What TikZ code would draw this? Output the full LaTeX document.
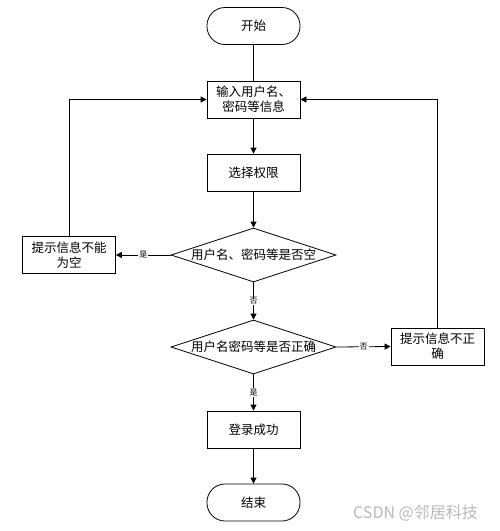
\documentclass[tikz,border=0pt]{standalone}
\usepackage{fontspec}
\setmainfont{Noto Sans CJK SC}
\usetikzlibrary{shapes.geometric,arrows.meta}
\begin{document}
\begin{tikzpicture}[x=1pt, y=-1pt, line width=0.8pt,
   >={Triangle[length=6pt,width=6pt]},
   term/.style={draw, rounded corners=18pt, minimum width=93pt, minimum height=37pt,
     font=\fontsize{12.5}{15}\selectfont},
   box/.style={draw, minimum width=93pt, minimum height=37pt, inner sep=1pt, align=center,
     font=\fontsize{12.5}{15}\selectfont},
   cond/.style={draw, diamond, aspect=3, inner sep=0pt, minimum width=165pt, minimum height=54pt,
     font=\fontsize{12.5}{15}\selectfont},
   lbl/.style={fill=white, inner sep=1pt, font=\fontsize{8}{8}\selectfont}]
   \useasboundingbox (0,0) rectangle (500,531);
   \node[term] (start) at (253.5,26) {开始};
   \node[box] (input) at (253.5,99.5) {输入用户名、\\密码等信息};
   \node[box] (role) at (253.5,172.5) {选择权限};
   \node[cond] (empty) at (253.5,255) {用户名、密码等是否空};
   \node[box] (msgempty) at (69,255) {提示信息不能\\为空};
   \node[cond] (check) at (253.5,347) {用户名密码等是否正确};
   \node[box] (msgwrong) at (437.5,346.5) {提示信息不正\\确};
   \node[box] (ok) at (253.5,429.5) {登录成功};
   \node[term] (stop) at (253.5,502.5) {结束};
   \draw (start) -- (input);
   \draw[->] (input) -- (role);
   \draw[->] (role) -- (empty);
   \draw[->] (empty.west) -- node[lbl] {是} (msgempty.east);
   \draw[->] (msgempty.north) |- (input.west);
   \draw[->] (empty.south) -- node[lbl] {否} (check.north);
   \draw[->] (check.east) -- node[lbl] {否} (msgwrong.west);
   \draw[->] (msgwrong.north) |- (input.east);
   \draw[->] (check.south) -- node[lbl] {是} (ok.north);
   \draw[->] (ok) -- (stop);
   \node[text=gray!55, font=\fontsize{16}{16}\selectfont] (mark) at (415.5,513) {CSDN @邻居科技};
  \end{tikzpicture}
\end{document}
